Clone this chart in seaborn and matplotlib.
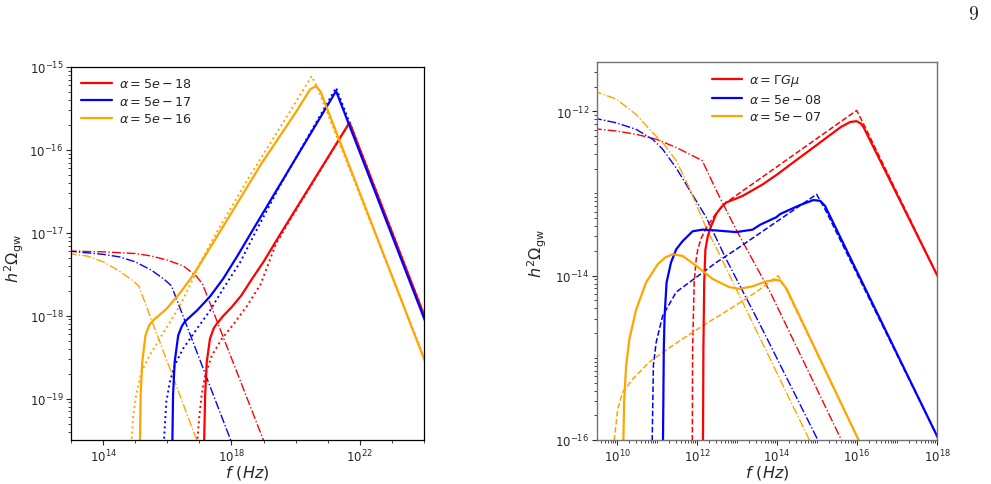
import numpy as np
import pandas as pd
import matplotlib
matplotlib.use("Agg")
import matplotlib.pyplot as plt
import seaborn as sns
from matplotlib.ticker import LogLocator, FixedLocator, NullFormatter, LogFormatterSciNotation

sns.set_style("ticks")
plt.rcParams["font.family"] = ["DejaVu Sans"]
plt.rcParams["mathtext.fontset"] = "dejavusans"

# ---------------- LEFT PANEL DATA (log10 f [Hz], log10 h^2 Omega_gw) -------------
left_labels = [r"$\alpha = 5e-18$", r"$\alpha = 5e-17$", r"$\alpha = 5e-16$"]
left_colors = ["red", "blue", "orange"]

# solid curves
L_red_solid_f = [17.14, 17.15, 17.18, 17.23, 17.33, 17.45, 17.54, 17.75, 18.0, 18.3, 18.6, 19.0, 19.5, 21.68, 24.1]
L_red_solid_o = [-20.5, -19.5, -18.96, -18.56, -18.28, -18.15, -18.10, -18.00, -17.90, -17.76, -17.58, -17.35, -17.03, -15.67, -18.09]
L_blue_solid_f = [16.15, 16.16, 16.18, 16.23, 16.34, 16.45, 16.55, 16.92, 17.33, 17.75, 18.2, 18.69, 21.26, 24.1]
L_blue_solid_o = [-20.5, -19.5, -18.96, -18.56, -18.24, -18.13, -18.07, -17.94, -17.77, -17.55, -17.27, -16.95, -15.29, -18.13]
L_orange_solid_f = [15.14, 15.15, 15.17, 15.22, 15.32, 15.43, 15.55, 15.97, 16.39, 16.81, 17.70, 18.91, 20.0, 20.45, 20.64, 20.78, 24.1]
L_orange_solid_o = [-20.5, -19.5, -18.96, -18.56, -18.24, -18.12, -18.06, -17.92, -17.73, -17.51, -16.95, -16.18, -15.55, -15.27, -15.23, -15.30, -18.62]

# dotted curves
L_red_dot_f = [16.93, 16.94, 17.0, 17.07, 17.18, 17.39, 17.70, 18.07, 18.49, 18.91, 19.38, 19.8, 21.68, 24.1]
L_red_dot_o = [-20.5, -19.49, -19.21, -18.96, -18.72, -18.48, -18.28, -18.10, -17.88, -17.62, -17.14, -16.86, -15.67, -18.09]
L_blue_dot_f = [15.89, 15.90, 15.97, 16.08, 16.23, 16.49, 16.92, 17.33, 17.75, 18.28, 18.75, 19.5, 21.26, 24.1]
L_blue_dot_o = [-20.5, -19.49, -19.04, -18.80, -18.60, -18.40, -18.16, -17.94, -17.67, -17.35, -16.99, -16.44, -15.25, -18.1]
L_orange_dot_f = [14.87, 14.89, 14.94, 15.03, 15.19, 15.45, 15.76, 16.08, 16.39, 16.70, 17.0, 17.5, 18.5, 19.5, 20.50, 20.7, 24.1]
L_orange_dot_o = [-20.5, -19.49, -19.21, -18.96, -18.68, -18.48, -18.28, -18.08, -17.88, -17.64, -17.38, -17.02, -16.36, -15.74, -15.11, -15.27, -18.6]

# dash-dot curves
L_red_dd_f = [12.9, 14.0, 15.0, 15.5, 16.0, 16.5, 16.9, 17.10, 19.6]
L_red_dd_o = [-17.22, -17.23, -17.25, -17.28, -17.33, -17.40, -17.52, -17.62, -20.1]
L_blue_dd_f = [12.9, 14.0, 14.5, 15.0, 15.5, 15.9, 16.13, 18.5]
L_blue_dd_o = [-17.22, -17.26, -17.29, -17.35, -17.45, -17.56, -17.64, -20.03]
L_orange_dd_f = [12.9, 13.5, 14.0, 14.5, 14.9, 15.11, 17.5]
L_orange_dd_o = [-17.25, -17.28, -17.35, -17.46, -17.57, -17.64, -20.1]

# ---------------- RIGHT PANEL DATA ----------------
right_labels = [r"$\alpha = \Gamma G\mu$", r"$\alpha = 5e-08$", r"$\alpha = 5e-07$"]
right_colors = ["red", "blue", "orange"]

R_red_solid_f = [12.14, 12.15, 12.16, 12.18, 12.21, 12.27, 12.35, 12.48, 12.6, 12.73, 13.14, 13.64, 14.0, 14.41, 14.8, 15.24, 15.6, 15.83, 15.99, 16.1, 16.16, 18.05]
R_red_solid_o = [-16.5, -16.0, -14.89, -14.08, -13.68, -13.52, -13.40, -13.25, -13.17, -13.11, -13.03, -12.89, -12.77, -12.62, -12.48, -12.32, -12.19, -12.13, -12.12, -12.15, -12.19, -14.04]
R_red_dash_f = [11.88, 11.89, 11.93, 11.98, 12.02, 12.1, 12.23, 12.48, 12.73, 15.99, 16.16, 18.05]
R_red_dash_o = [-16.5, -14.89, -14.08, -13.80, -13.68, -13.55, -13.42, -13.24, -13.11, -11.99, -12.15, -14.04]
R_red_dd_f = [9.4, 9.98, 10.48, 10.98, 11.48, 11.89, 12.13, 12.5, 13.0, 13.83, 15.58, 16.5]
R_red_dd_o = [-12.21, -12.24, -12.28, -12.34, -12.44, -12.54, -12.60, -12.98, -13.46, -14.20, -15.97, -16.9]

R_blue_solid_f = [11.14, 11.15, 11.17, 11.19, 11.24, 11.35, 11.48, 11.64, 11.89, 12.14, 12.48, 12.98, 13.39, 13.58, 13.98, 14.08, 14.58, 14.91, 15.08, 15.2, 18.05]
R_blue_solid_o = [-16.5, -16.0, -14.89, -14.49, -14.08, -13.84, -13.68, -13.58, -13.46, -13.44, -13.45, -13.47, -13.44, -13.38, -13.29, -13.25, -13.14, -13.08, -13.09, -13.15, -16.0]
R_blue_dash_f = [10.87, 10.88, 10.91, 10.98, 11.14, 11.48, 11.98, 12.48, 12.98, 14.99, 15.2, 18.05]
R_blue_dash_o = [-16.5, -16.0, -15.09, -14.81, -14.49, -14.20, -14.02, -13.84, -13.68, -13.01, -13.19, -16.0]
R_blue_dd_f = [9.4, 9.98, 10.48, 10.89, 11.14, 11.48, 11.73, 11.98, 12.23, 12.73, 13.58, 14.99, 16.0]
R_blue_dd_o = [-12.08, -12.14, -12.22, -12.34, -12.46, -12.69, -12.89, -13.09, -13.29, -13.80, -14.60, -15.97, -17.0]

R_orange_solid_f = [10.15, 10.16, 10.18, 10.23, 10.31, 10.48, 10.73, 11.02, 11.2, 11.39, 11.64, 11.98, 12.39, 12.81, 13.06, 13.39, 13.73, 13.98, 14.08, 14.24, 16.03, 16.5]
R_orange_solid_o = [-16.5, -16.0, -15.50, -15.09, -14.77, -14.41, -14.08, -13.86, -13.78, -13.74, -13.76, -13.88, -14.04, -14.14, -14.16, -14.13, -14.07, -14.05, -14.06, -14.16, -15.99, -16.47]
R_orange_dash_f = [9.92, 9.93, 10.02, 10.14, 10.39, 10.81, 11.39, 12.14, 12.81, 13.48, 14.03, 14.2, 16.03, 16.5]
R_orange_dash_o = [-16.5, -16.0, -15.62, -15.42, -15.26, -15.05, -14.85, -14.61, -14.41, -14.20, -14.0, -14.14, -15.99, -16.47]
R_orange_dd_f = [9.4, 9.98, 10.48, 10.89, 11.14, 11.48, 11.73, 11.98, 12.23, 12.48, 14.78, 15.5]
R_orange_dd_o = [-11.75, -11.85, -12.04, -12.26, -12.38, -12.60, -12.85, -13.13, -13.42, -13.66, -15.97, -16.7]

# tick positions
L_xticks = [1e14, 1e18, 1e22]
L_yticks = [1e-19, 1e-18, 1e-17, 1e-16, 1e-15]
R_xticks = [1e10, 1e12, 1e14, 1e16, 1e18]
R_yticks = [1e-16, 1e-14, 1e-12]


def draw(ax, fexp, oexp, color, ls, lw, label=None):
    df = pd.DataFrame({"f": np.power(10.0, fexp), "omega": np.power(10.0, oexp)})
    sns.lineplot(data=df, x="f", y="omega", ax=ax, color=color, linestyle=ls,
                 linewidth=lw, sort=False, estimator=None, label=label, legend=False)


fig = plt.figure(figsize=(9.91, 4.85), dpi=100)
axL = fig.add_axes([71 / 991, 1 - 441 / 485, 353 / 991, 373 / 485])
axR = fig.add_axes([597 / 991, 1 - 441 / 485, 340 / 991, 378 / 485])

for ax in (axL, axR):
    ax.set_xscale("log")
    ax.set_yscale("log")

# left panel
left_solid = [(L_red_solid_f, L_red_solid_o), (L_blue_solid_f, L_blue_solid_o), (L_orange_solid_f, L_orange_solid_o)]
left_dot = [(L_red_dot_f, L_red_dot_o), (L_blue_dot_f, L_blue_dot_o), (L_orange_dot_f, L_orange_dot_o)]
left_dd = [(L_red_dd_f, L_red_dd_o), (L_blue_dd_f, L_blue_dd_o), (L_orange_dd_f, L_orange_dd_o)]
for (f, o), c in zip(left_dd, left_colors):
    draw(axL, f, o, c, "-.", 1.0)
for (f, o), c in zip(left_dot, left_colors):
    draw(axL, f, o, c, ":", 1.4)
for (f, o), c, lab in zip(left_solid, left_colors, left_labels):
    draw(axL, f, o, c, "-", 1.6, lab)

# right panel
right_solid = [(R_red_solid_f, R_red_solid_o), (R_blue_solid_f, R_blue_solid_o), (R_orange_solid_f, R_orange_solid_o)]
right_dash = [(R_red_dash_f, R_red_dash_o), (R_blue_dash_f, R_blue_dash_o), (R_orange_dash_f, R_orange_dash_o)]
right_dd = [(R_red_dd_f, R_red_dd_o), (R_blue_dd_f, R_blue_dd_o), (R_orange_dd_f, R_orange_dd_o)]
for (f, o), c in zip(right_dd, right_colors):
    draw(axR, f, o, c, "-.", 1.0)
for (f, o), c in zip(right_dash, right_colors):
    draw(axR, f, o, c, "--", 1.1)
for (f, o), c, lab in zip(right_solid, right_colors, right_labels):
    draw(axR, f, o, c, "-", 1.6, lab)

axL.set_xlim(1e13, 1e24)
axL.set_ylim(10 ** -19.5, 1e-15)
axR.set_xlim(10 ** 9.5, 1e18)
axR.set_ylim(1e-16, 10 ** -11.4)

axL.xaxis.set_major_locator(FixedLocator(L_xticks))
axL.xaxis.set_minor_locator(FixedLocator([10.0 ** k for k in range(13, 25)]))
axL.yaxis.set_major_locator(FixedLocator(L_yticks))
axL.yaxis.set_minor_locator(LogLocator(base=10, subs=np.arange(2, 10), numticks=50))
axR.xaxis.set_major_locator(FixedLocator(R_xticks))
axR.xaxis.set_minor_locator(LogLocator(base=10, subs=np.arange(1, 10), numticks=60))
axR.yaxis.set_major_locator(FixedLocator(R_yticks))
axR.yaxis.set_minor_locator(LogLocator(base=10, subs=np.arange(1, 10), numticks=60))
for ax in (axL, axR):
    ax.xaxis.set_major_formatter(LogFormatterSciNotation())
    ax.yaxis.set_major_formatter(LogFormatterSciNotation())
    ax.xaxis.set_minor_formatter(NullFormatter())
    ax.yaxis.set_minor_formatter(NullFormatter())
    ax.tick_params(axis="both", which="major", labelsize=8.5, length=3.5, width=0.8,
                   direction="out", pad=2)
    ax.tick_params(axis="both", which="minor", length=2, width=0.6, direction="out")
    ax.set_xlabel(r"$f\ (Hz)$", fontsize=11.5)
    ax.set_ylabel(r"$h^2\Omega_{\rm gw}$", fontsize=11.5)

axL.xaxis.set_label_coords(0.5, -0.063)
axL.yaxis.set_label_coords(-0.128, 0.49)
axR.xaxis.set_label_coords(0.5, -0.062)
axR.yaxis.set_label_coords(-0.142, 0.497)

for sp in axL.spines.values():
    sp.set_color("black")
    sp.set_linewidth(0.9)
for sp in axR.spines.values():
    sp.set_color("0.45")
    sp.set_linewidth(1.0)

axL.legend(loc="upper left", bbox_to_anchor=(0.0, 1.0), frameon=False, fontsize=9.2,
           handlelength=2.4, handletextpad=0.55, labelspacing=0.35, borderaxespad=0.4)
axR.legend(loc="upper center", bbox_to_anchor=(0.5, 1.0), frameon=False, fontsize=9.2,
           handlelength=2.4, handletextpad=0.55, labelspacing=0.35, borderaxespad=0.4)

fig.text(973 / 991, 1 - 14 / 485, r"$9$", fontsize=14, ha="center", va="center", math_fontfamily="cm")

fig.savefig("out.png", dpi=100)
